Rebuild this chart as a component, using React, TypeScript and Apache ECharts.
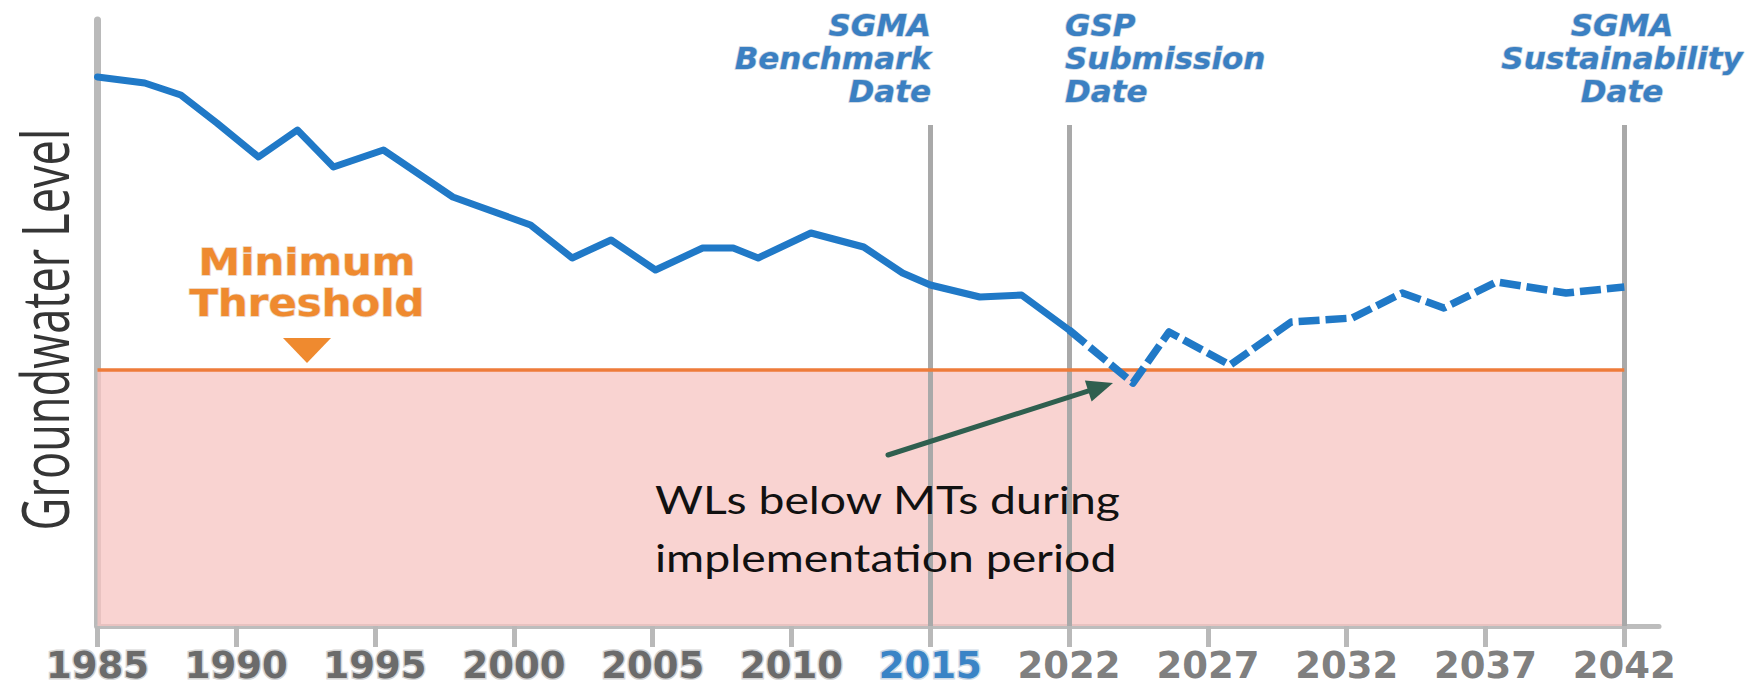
import React, { useEffect, useRef } from "react";
import * as echarts from "echarts";

// ---- Axis definition (non-uniform year axis: each tick is one step) ----
const tickYears = [1985, 1990, 1995, 2000, 2005, 2010, 2015, 2022, 2027, 2032, 2037, 2042];
const tickLabels = ["1985", "1990", "1995", "2000", "2005", "2010", "2015", "2022", "2027", "2032", "2037", "2042"];
const highlightedLabel = "2015";
const historicLabelCount = 7; // 1985..2015 drawn with halo

// ---- Observed groundwater level (solid) ----
const observedYears = [
  1985, 1986.7, 1988, 1989.3, 1990.8, 1992.2, 1993.5, 1995.3, 1997.8, 1998.8, 2000.6, 2002.1,
  2003.5, 2005.1, 2006.8, 2007.9, 2008.8, 2010.7, 2012.6, 2014, 2015, 2017.5, 2019.6, 2022,
];
const observedLevels = [
  54.9, 54.3, 53.1, 50.3, 46.9, 49.6, 45.9, 47.6, 42.9, 41.9, 40.1, 36.8,
  38.6, 35.6, 37.8, 37.8, 36.8, 39.3, 37.9, 35.3, 34.1, 32.9, 33.1, 29.6,
];

// ---- Projected groundwater level (dashed) ----
const projectedYears = [2022, 2024.3, 2025.6, 2027.8, 2030.0, 2032.2, 2034.0, 2035.5, 2037.4, 2039.9, 2042];
const projectedLevels = [29.6, 24.3, 29.4, 26.1, 30.4, 30.8, 33.3, 31.8, 34.4, 33.3, 33.9];

// ---- Reference values ----
const minimumThreshold = 25.6;
const milestoneYears = [2015, 2022, 2042];
const milestoneTop = 50.1;
const levelMin = 0;
const levelMax = 60.6;

function yearToPos(year: number): number {
  for (let i = 0; i < tickYears.length - 1; i++) {
    if (year <= tickYears[i + 1]) {
      return i + (year - tickYears[i]) / (tickYears[i + 1] - tickYears[i]);
    }
  }
  return tickYears.length - 1;
}

const tickPositions = tickYears.map((_, i) => i);
const lastPos = tickYears.length - 1;

export default function App() {
  const ref = useRef<HTMLDivElement>(null);

  useEffect(() => {
    if (!ref.current) return;
    const chart = echarts.init(ref.current, null, { renderer: "svg" });

    const blue = "#2079c7";
    const titleStyle = {
      fontFamily: "DejaVu Sans",
      fontWeight: "bold",
      fontStyle: "italic",
      fontSize: 31,
      lineHeight: 33,
      fill: "#3b80c2",
      stroke: "#c9d4df",
      lineWidth: 1.5,
      verticalAlign: "top",
    };

    // arrow geometry (annotation)
    const tail = [888, 455];
    const tip = [1113, 383];
    const dx = tip[0] - tail[0];
    const dy = tip[1] - tail[1];
    const len = Math.sqrt(dx * dx + dy * dy);
    const ux = dx / len;
    const uy = dy / len;
    const headLen = 26;
    const headHalf = 11;
    const bx = tip[0] - ux * headLen;
    const by = tip[1] - uy * headLen;
    const nx = -uy;
    const ny = ux;

    const labelBase = {
      fontFamily: "DejaVu Sans",
      fontWeight: "bold",
      fontSize: 37,
      lineHeight: 30,
    };

    const option: any = {
      animation: false,
      grid: { left: 97.5, right: 93, top: 20, bottom: 59, containLabel: false, outerBoundsMode: "none" },
      xAxis: {
        type: "value",
        min: 0,
        max: 11.25,
        interval: 1,
        splitLine: { show: false },
        axisLine: { show: true, lineStyle: { color: "#bdbdbd", width: 5, cap: "round" } },
        axisTick: {
          show: true,
          customValues: tickPositions,
          length: 21,
          lineStyle: { color: "#b9b9b9", width: 5 },
        },
        axisLabel: {
          show: true,
          customValues: tickPositions,
          margin: 24,
          formatter: (v: number) => {
            const i = Math.round(v);
            const lbl = tickLabels[i];
            if (lbl === undefined) return "";
            const style = lbl === highlightedLabel ? "hl" : i < historicLabelCount ? "halo" : "plain";
            return `{${style}|${lbl}}`;
          },
          rich: {
            halo: {
              ...labelBase,
              color: "#6b6b6b",
              textBorderColor: "#d6d6d6",
              textBorderWidth: 3,
            },
            hl: {
              ...labelBase,
              color: "#3a84c6",
              textBorderColor: "#d0dbe6",
              textBorderWidth: 3,
            },
            plain: {
              ...labelBase,
              color: "#808080",
            },
          },
        },
      },
      yAxis: {
        type: "value",
        min: levelMin,
        max: levelMax,
        splitLine: { show: false },
        axisTick: { show: false },
        axisLabel: { show: false },
        axisLine: { show: true, lineStyle: { color: "#bababa", width: 7, cap: "round" } },
      },
      series: [
        {
          name: "milestones",
          type: "line",
          data: [],
          z: 1,
          markLine: {
            silent: true,
            symbol: ["none", "none"],
            label: { show: false },
            lineStyle: { color: "#a9a9a9", width: 5, type: "solid" },
            data: milestoneYears.map((y) => [
              { coord: [yearToPos(y), milestoneTop] },
              { coord: [yearToPos(y), levelMin] },
            ]),
          },
        },
        {
          name: "threshold",
          type: "line",
          data: [],
          z: 2,
          markArea: {
            silent: true,
            itemStyle: { color: "rgba(247,196,194,0.75)" },
            data: [[{ coord: [0, levelMin] }, { coord: [lastPos, minimumThreshold] }]],
          },
          markLine: {
            silent: true,
            symbol: ["none", "none"],
            label: { show: false },
            lineStyle: { color: "#ee7b3a", width: 3.5, type: "solid" },
            data: [[{ coord: [0, minimumThreshold] }, { coord: [lastPos, minimumThreshold] }]],
          },
        },
        {
          name: "Observed",
          type: "line",
          z: 5,
          showSymbol: false,
          symbol: "none",
          data: observedYears.map((y, i) => [yearToPos(y), observedLevels[i]]),
          lineStyle: { color: blue, width: 7, join: "round", cap: "round" },
        },
        {
          name: "Projected",
          type: "line",
          z: 5,
          showSymbol: false,
          symbol: "none",
          data: projectedYears.map((y, i) => [yearToPos(y), projectedLevels[i]]),
          lineStyle: { color: blue, width: 7.5, type: [21, 6], join: "round" },
        },
      ],
      graphic: [
        {
          type: "text",
          x: 44.4,
          y: 329.5,
          rotation: Math.PI / 2,
          scaleX: 0.685,
          z: 100,
          style: {
            text: "Groundwater Level",
            fontFamily: "Open Sans",
            fontSize: 66,
            fill: "#353535",
            align: "center",
            verticalAlign: "middle",
          },
        },
        {
          type: "text",
          x: 931,
          y: 8,
          z: 100,
          style: { ...titleStyle, text: "SGMA\nBenchmark\nDate", align: "right" },
        },
        {
          type: "text",
          x: 1065,
          y: 8,
          z: 100,
          style: { ...titleStyle, text: "GSP\nSubmission\nDate", align: "left" },
        },
        {
          type: "text",
          x: 1622,
          y: 8,
          z: 100,
          style: { ...titleStyle, text: "SGMA\nSustainability\nDate", align: "center" },
        },
        {
          type: "text",
          x: 307,
          y: 241.5,
          scaleX: 1.1,
          z: 100,
          style: {
            text: "Minimum\nThreshold",
            fontFamily: "DejaVu Sans",
            fontWeight: "bold",
            fontSize: 38,
            lineHeight: 41,
            fill: "#ef8a2f",
            stroke: "#ead3c0",
            lineWidth: 1.5,
            align: "center",
            verticalAlign: "top",
          },
        },
        {
          type: "polygon",
          z: 100,
          shape: { points: [[283, 338], [331, 338], [307, 363]] },
          style: { fill: "#ef8a2f" },
        },
        {
          type: "text",
          x: 655,
          y: 470.5,
          scaleX: 1.22,
          z: 100,
          style: {
            text: "WLs below MTs during\nimplementation period",
            fontFamily: "Lato",
            fontSize: 38,
            lineHeight: 58,
            fill: "#111111",
            align: "left",
            verticalAlign: "top",
          },
        },
        {
          type: "line",
          z: 100,
          shape: { x1: tail[0], y1: tail[1], x2: bx + ux * 2, y2: by + uy * 2 },
          style: { stroke: "#2f5f4f", lineWidth: 5, lineCap: "round" },
        },
        {
          type: "polygon",
          z: 100,
          shape: {
            points: [
              [tip[0], tip[1]],
              [bx + nx * headHalf, by + ny * headHalf],
              [bx - nx * headHalf, by - ny * headHalf],
            ],
          },
          style: { fill: "#2f5f4f" },
        },
      ],
    };

    chart.setOption(option);
    return () => chart.dispose();
  }, []);

  return (
    <div
      ref={ref}
      style={{ position: "fixed", left: 0, top: 0, width: 1752, height: 685, background: "#ffffff" }}
    />
  );
}
